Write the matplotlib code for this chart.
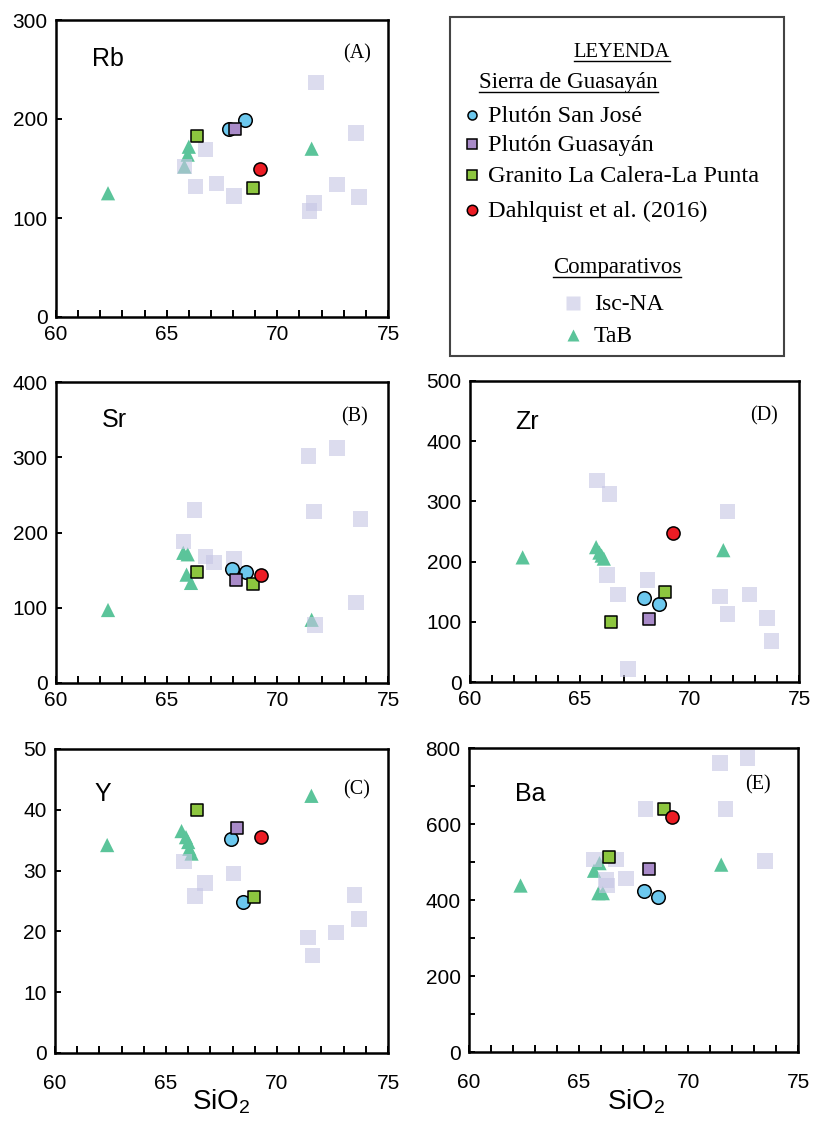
import matplotlib
matplotlib.use("Agg")
import matplotlib.pyplot as plt
from matplotlib.patches import Rectangle
from matplotlib.ticker import MultipleLocator

plt.rcParams['font.family'] = ['Liberation Sans', 'DejaVu Sans']
plt.rcParams['mathtext.fontset'] = 'custom'
plt.rcParams['mathtext.rm'] = 'Liberation Sans'
plt.rcParams['mathtext.it'] = 'Liberation Sans:italic'

# ---------------- data ----------------
# Panel A: Rb
rb_sj_x = [67.8, 68.55]; rb_sj_y = [190, 199]
rb_gu_x = [68.1]; rb_gu_y = [190]
rb_gr_x = [66.35, 68.9]; rb_gr_y = [183, 130]
rb_da_x = [69.2]; rb_da_y = [149]
rb_isc_x = [71.75, 73.55, 66.75, 66.3, 67.25, 68.05, 72.7, 71.65, 71.45, 73.7, 65.8]
rb_isc_y = [237, 186, 169, 132, 135, 122, 134, 115, 107, 121, 152]
rb_tab_x = [62.35, 66.0, 65.95, 65.8, 71.55]
rb_tab_y = [125, 172, 164, 152, 170]

# Panel B: Sr
sr_sj_x = [67.95, 68.6]; sr_sj_y = [152, 148]
sr_gu_x = [68.15]; sr_gu_y = [137]
sr_gr_x = [66.35, 68.9]; sr_gr_y = [147, 131]
sr_da_x = [69.25]; sr_da_y = [143]
sr_isc_x = [71.4, 72.7, 66.25, 71.65, 73.75, 65.75, 66.75, 67.15, 68.05, 73.55, 71.7]
sr_isc_y = [302, 312, 230, 228, 218, 188, 168, 160, 165, 107, 77]
sr_tab_x = [62.35, 65.75, 65.95, 65.9, 66.1, 71.55]
sr_tab_y = [97, 173, 171, 144, 133, 84]

# Panel D: Zr
zr_sj_x = [67.95, 68.6]; zr_sj_y = [139, 129]
zr_gu_x = [68.15]; zr_gu_y = [104]
zr_gr_x = [66.45, 68.9]; zr_gr_y = [100, 150]
zr_da_x = [69.25]; zr_da_y = [247]
zr_isc_x = [65.8, 66.35, 66.25, 66.75, 68.1, 67.2, 71.75, 71.4, 71.75, 72.75, 73.55, 73.75]
zr_isc_y = [335, 312, 178, 145, 169, 22, 283, 142, 113, 145, 106, 68]
zr_tab_x = [62.4, 65.75, 65.9, 66.0, 66.1, 71.55]
zr_tab_y = [207, 224, 215, 210, 205, 219]

# Panel C: Y
y_sj_x = [67.95, 68.45]; y_sj_y = [35.2, 24.9]
y_gu_x = [68.2]; y_gu_y = [37.0]
y_gr_x = [66.4, 68.95]; y_gr_y = [39.9, 25.6]
y_da_x = [69.3]; y_da_y = [35.5]
y_isc_x = [65.8, 66.75, 66.3, 68.05, 71.4, 71.6, 72.65, 73.5, 73.7]
y_isc_y = [31.5, 28.0, 25.8, 29.5, 19.0, 16.0, 19.8, 26.0, 22.0]
y_tab_x = [62.35, 65.7, 65.9, 66.0, 66.05, 66.15, 71.55]
y_tab_y = [34.2, 36.5, 35.5, 34.7, 33.6, 32.8, 42.3]

# Panel E: Ba
ba_sj_x = [68.0, 68.6]; ba_sj_y = [425, 408]
ba_gu_x = [68.2]; ba_gu_y = [482]
ba_gr_x = [66.4, 68.9]; ba_gr_y = [512, 640]
ba_da_x = [69.25]; ba_da_y = [618]
ba_isc_x = [71.45, 72.7, 71.7, 68.05, 73.5, 65.7, 66.7, 66.25, 67.15, 66.3]
ba_isc_y = [760, 773, 640, 640, 502, 506, 506, 453, 456, 438]
ba_tab_x = [62.35, 65.7, 65.95, 65.9, 66.1, 71.5]
ba_tab_y = [438, 477, 497, 418, 418, 493]

legend_labels = ["Plutón San José", "Plutón Guasayán", "Granito La Calera-La Punta",
                 "Dahlquist et al. (2016)", "Isc-NA", "TaB"]

C_SJ = '#6CC8EE'
C_GU = '#A98BC9'
C_GR = '#8DC63F'
C_DA = '#EC1C24'
C_ISC = '#C6C6E4'
C_TAB = '#5BC49A'

W, H = 813, 1121
fig = plt.figure(figsize=(W / 100, H / 100), dpi=100)


def px_axes(x0, y0, x1, y1):
    return fig.add_axes([x0 / W, 1 - y1 / H, (x1 - x0) / W, (y1 - y0) / H])


panels = [
    ((56, 20, 388, 317), 300, 100, None, 'Rb', '(A)', (0.108, 0.845), (0.949, 0.886), 6,
     (rb_sj_x, rb_sj_y, rb_gu_x, rb_gu_y, rb_gr_x, rb_gr_y, rb_da_x, rb_da_y,
      rb_isc_x, rb_isc_y, rb_tab_x, rb_tab_y)),
    ((56, 382, 388, 683), 400, 100, None, 'Sr', '(B)', (0.139, 0.85), (0.94, 0.884), 6,
     (sr_sj_x, sr_sj_y, sr_gu_x, sr_gu_y, sr_gr_x, sr_gr_y, sr_da_x, sr_da_y,
      sr_isc_x, sr_isc_y, sr_tab_x, sr_tab_y)),
    ((470, 381, 799, 682), 500, 100, None, 'Zr', '(D)', (0.137, 0.84), (0.936, 0.884), 6,
     (zr_sj_x, zr_sj_y, zr_gu_x, zr_gu_y, zr_gr_x, zr_gr_y, zr_da_x, zr_da_y,
      zr_isc_x, zr_isc_y, zr_tab_x, zr_tab_y)),
    ((55, 749, 388, 1053), 50, 10, None, 'Y', '(C)', (0.12, 0.829), (0.946, 0.867), 15,
     (y_sj_x, y_sj_y, y_gu_x, y_gu_y, y_gr_x, y_gr_y, y_da_x, y_da_y,
      y_isc_x, y_isc_y, y_tab_x, y_tab_y)),
    ((469, 748, 798, 1052), 800, 200, 100, 'Ba', '(E)', (0.14, 0.826), (0.918, 0.878), 15,
     (ba_sj_x, ba_sj_y, ba_gu_x, ba_gu_y, ba_gr_x, ba_gr_y, ba_da_x, ba_da_y,
      ba_isc_x, ba_isc_y, ba_tab_x, ba_tab_y)),
]

for box, ymax, ymaj, ymin, name, letter, npos, lpos, xpad, d in panels:
    ax = px_axes(*box)
    sjx, sjy, gux, guy, grx, gry, dax, day, iscx, iscy, tabx, taby = d
    ax.scatter(tabx, taby, marker='^', s=105, c=C_TAB, edgecolors='none', zorder=2)
    ax.scatter(iscx, iscy, marker='s', s=125, c=C_ISC, alpha=0.6, edgecolors='none', zorder=3)
    ax.scatter(sjx, sjy, marker='o', s=95, c=C_SJ, edgecolors='black', linewidths=1.1, zorder=4)
    ax.scatter(gux, guy, marker='s', s=85, c=C_GU, edgecolors='black', linewidths=1.1, zorder=5)
    ax.scatter(grx, gry, marker='s', s=85, c=C_GR, edgecolors='black', linewidths=1.1, zorder=5)
    ax.scatter(dax, day, marker='o', s=90, c=C_DA, edgecolors='black', linewidths=1.1, zorder=6)

    ax.set_xlim(60, 75)
    ax.set_ylim(0, ymax)
    ax.xaxis.set_major_locator(MultipleLocator(5))
    ax.xaxis.set_minor_locator(MultipleLocator(1))
    ax.yaxis.set_major_locator(MultipleLocator(ymaj))
    if ymin:
        ax.yaxis.set_minor_locator(MultipleLocator(ymin))
    ax.tick_params(axis='both', which='both', direction='in', width=1.4,
                   top=False, right=False, labelsize=15, colors='black')
    ax.tick_params(axis='x', which='both', length=5, pad=xpad)
    ax.tick_params(axis='y', which='both', length=4, pad=6)
    for sp in ax.spines.values():
        sp.set_linewidth(1.8)
        sp.set_color('black')
    ax.text(npos[0], npos[1], name, transform=ax.transAxes, fontsize=18,
            ha='left', va='baseline')
    ax.text(lpos[0], lpos[1], letter, transform=ax.transAxes, fontsize=14.5,
            ha='right', va='center', family=['Liberation Serif', 'DejaVu Serif'])

# SiO2 axis labels
fig.text(221 / W, 1 - 1110 / H, 'SiO$_2$', fontsize=20, ha='center', va='baseline')
fig.text(636 / W, 1 - 1110 / H, 'SiO$_2$', fontsize=20, ha='center', va='baseline')

# ---------------- legend ----------------
L = fig.add_axes([0, 0, 1, 1], zorder=10)
L.set_xlim(0, W)
L.set_ylim(H, 0)
L.axis('off')
L.add_patch(Rectangle((450, 17), 334, 339, fill=False, edgecolor='#444444', linewidth=1.5))
serif = ['Liberation Serif', 'DejaVu Serif']

t1 = L.text(622, 57, 'LEYENDA', fontsize=14.8, ha='center', va='baseline', family=serif)
t2 = L.text(479, 88, 'Sierra de Guasayán', fontsize=16.6, ha='left', va='baseline', family=serif)
t3 = L.text(617, 273, 'Comparativos', fontsize=16.5, ha='center', va='baseline', family=serif)

rows = [122, 151, 182, 217]
styles = [('o', C_SJ, 6.5), ('s', C_GU, 6.5), ('s', C_GR, 6.5), ('o', C_DA, 7.5)]
for yb, lab, (mk, col, ms) in zip(rows, legend_labels[:4], styles):
    L.plot([472], [yb - 7], marker=mk, ms=ms, mfc=col, mec='black', mew=1.1, ls='none')
    L.text(488, yb, lab, fontsize=17.5, ha='left', va='baseline', family=serif)

L.plot([573], [303], marker='s', ms=10, mfc='#DCDCEE', mec='none', ls='none')
L.text(594, 310, legend_labels[4], fontsize=17, ha='left', va='baseline', family=serif)
L.plot([573], [335], marker='^', ms=9, mfc=C_TAB, mec='none', ls='none')
L.text(594, 342, legend_labels[5], fontsize=17, ha='left', va='baseline', family=serif)

fig.canvas.draw()
r = fig.canvas.get_renderer()
inv = L.transData.inverted()
for t, yoff in ((t1, 4), (t2, 4), (t3, 4)):
    bb = t.get_window_extent(r)
    (xa, _), (xb, _) = inv.transform([(bb.x0, bb.y0), (bb.x1, bb.y0)])
    yb = t.get_position()[1] + yoff
    L.plot([xa, xb], [yb, yb], color='black', lw=1.0)

fig.savefig('out.png', dpi=100)
